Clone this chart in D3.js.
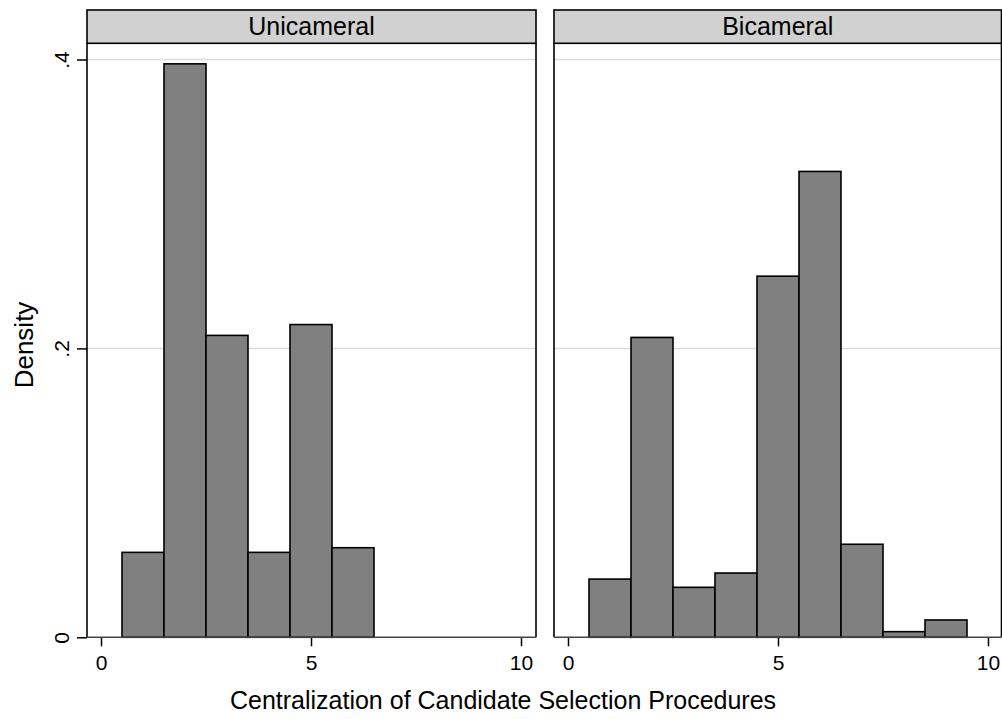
<!DOCTYPE html>
<html>
<head>
<meta charset="utf-8">
<script src="https://cdn.jsdelivr.net/npm/d3@7"></script>
<style>
  html, body { margin: 0; padding: 0; background: #fff; }
  svg { display: block; font-family: "Liberation Sans", Arial, sans-serif; }
</style>
</head>
<body>
<svg id="chart" width="1002" height="719"></svg>
<script>
// ---- data ----
const panelTitles = ["Unicameral", "Bicameral"];
const uniCategories = [1, 2, 3, 4, 5, 6];
const uniDensity = [0.0588, 0.397, 0.209, 0.0588, 0.2165, 0.062];
const biCategories = [1, 2, 3, 4, 5, 6, 7, 8, 9];
const biDensity = [0.0403, 0.2076, 0.0346, 0.0445, 0.25, 0.3225, 0.0644, 0.0039, 0.012];
const xTickValues = [0, 5, 10];
const yTickValues = [0, 0.2, 0.4];
const yTickLabels = ["0", ".2", ".4"];
const xTitle = "Centralization of Candidate Selection Procedures";
const yTitle = "Density";

// ---- layout ----
const svg = d3.select("#chart");
const plotTop = 43.3, headerTop = 10, zeroY = 637.3;
const panels = [
  { title: panelTitles[0], left: 87, width: 449, cats: uniCategories, vals: uniDensity, yaxis: true },
  { title: panelTitles[1], left: 554, width: 447.5, cats: biCategories, vals: biDensity, yaxis: false }
];
const y = d3.scaleLinear().domain([0, 0.4]).range([zeroY, 59.5]);

panels.forEach(p => {
  const x = d3.scaleLinear().domain([0, 10]).range([p.left + 14, p.left + 434]);
  const g = svg.append("g");
  const right = p.left + p.width;

  // gridlines
  g.selectAll("line.grid").data([0.2, 0.4]).enter().append("line")
    .attr("x1", p.left).attr("x2", right)
    .attr("y1", d => y(d)).attr("y2", d => y(d))
    .attr("stroke", "#dcdcdc").attr("stroke-width", 1.5);

  // bars
  g.selectAll("rect.bar").data(p.cats.map((c, i) => ({ c, v: p.vals[i] }))).enter().append("rect")
    .attr("x", d => x(d.c - 0.5))
    .attr("width", d => x(d.c + 0.5) - x(d.c - 0.5))
    .attr("y", d => y(d.v))
    .attr("height", d => y(0) - y(d.v))
    .attr("fill", "#808080").attr("stroke", "#000").attr("stroke-width", 1.6);

  // side borders of plot region
  g.append("line").attr("x1", p.left).attr("x2", p.left).attr("y1", plotTop).attr("y2", zeroY)
    .attr("stroke", "#000").attr("stroke-width", 1.6);
  g.append("line").attr("x1", right).attr("x2", right).attr("y1", plotTop).attr("y2", zeroY)
    .attr("stroke", "#000").attr("stroke-width", 1.6);

  // header strip
  g.append("rect").attr("x", p.left).attr("y", headerTop).attr("width", p.width).attr("height", plotTop - headerTop)
    .attr("fill", "#d1d1d1").attr("stroke", "#000").attr("stroke-width", 1.6);
  g.append("text").attr("x", p.left + p.width / 2).attr("y", 34.5)
    .attr("text-anchor", "middle").attr("font-size", 25).attr("fill", "#000").text(p.title);

  // x axis
  const xAxis = d3.axisBottom(x).tickValues(xTickValues).tickSize(9).tickPadding(9).tickFormat(d3.format("d"));
  const xa = g.append("g").attr("transform", `translate(0,${zeroY})`).call(xAxis);
  xa.select(".domain").remove();
  xa.append("line").attr("x1", p.left).attr("x2", right).attr("y1", 0).attr("y2", 0)
    .attr("stroke", "#444").attr("stroke-width", 1.6);
  xa.selectAll(".tick line").attr("stroke", "#000").attr("stroke-width", 1.5);
  xa.selectAll(".tick text").attr("font-size", 21).attr("fill", "#000")
    .attr("font-family", "Liberation Sans, Arial, sans-serif");

  // y axis
  if (p.yaxis) {
    const yAxis = d3.axisLeft(y).tickValues(yTickValues).tickSize(10)
      .tickFormat((d, i) => yTickLabels[i]);
    const ya = g.append("g").attr("transform", `translate(${p.left},0)`).call(yAxis);
    ya.select(".domain").remove();
    ya.selectAll(".tick line").attr("stroke", "#000").attr("stroke-width", 1.5);
    ya.selectAll(".tick text")
      .attr("font-size", 21).attr("fill", "#000")
      .attr("font-family", "Liberation Sans, Arial, sans-serif")
      .attr("text-anchor", "middle")
      .attr("dy", 0)
      .attr("x", 0)
      .attr("transform", "translate(-18,0) rotate(-90)");
  }
});

// axis titles
svg.append("text").attr("x", 503).attr("y", 709).attr("text-anchor", "middle")
  .attr("font-size", 25).attr("fill", "#000").text(xTitle);
svg.append("text").attr("transform", "translate(33,345) rotate(-90)").attr("text-anchor", "middle")
  .attr("font-size", 26).attr("fill", "#000").text(yTitle);
</script>
</body>
</html>
